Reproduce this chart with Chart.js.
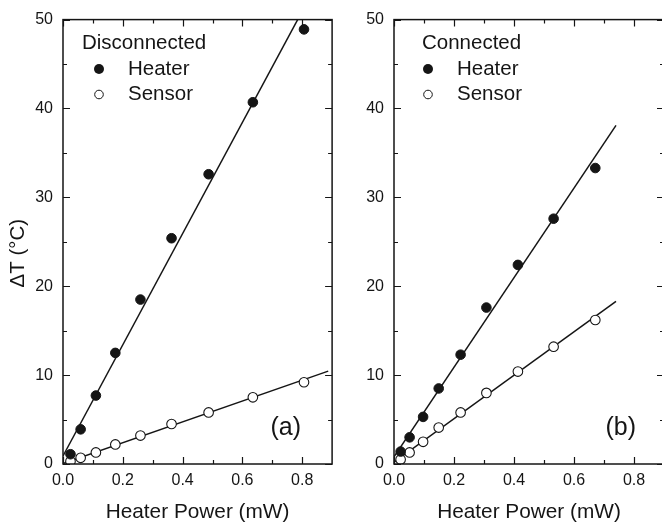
<!DOCTYPE html>
<html><head><meta charset="utf-8">
<script src="https://cdn.jsdelivr.net/npm/chart.js@4.4.0/dist/chart.umd.min.js"></script>
<style>
html,body{margin:0;padding:0;background:#fff;overflow:hidden;width:662px;height:527px;position:relative;}
#c1{position:absolute;left:0;top:0;}
#c2{position:absolute;left:338px;top:0;}
</style></head><body>
<canvas id="c1" width="338" height="527"></canvas>
<canvas id="c2" width="340" height="527"></canvas>
<script>
// ---- tick values ----
const xMajor = [0, 0.2, 0.4, 0.6, 0.8];
const xMinor = [0.1, 0.3, 0.5, 0.7];
const yMajor = [0, 10, 20, 30, 40, 50];
const yMinor = [5, 15, 25, 35, 45];

// ---- panel (a): Disconnected ----
const discPower  = [0.025, 0.059, 0.110, 0.175, 0.259, 0.363, 0.487, 0.635, 0.806];
const discHeater = [1.1, 3.9, 7.7, 12.5, 18.5, 25.4, 32.6, 40.7, 48.9];
const discSensor = [0.3, 0.7, 1.3, 2.2, 3.2, 4.5, 5.8, 7.5, 9.2];
const discHeaterFitX = [0, 0.9];
const discHeaterFitY = [0.9, 57.2];
const discSensorFitX = [0, 0.887];
const discSensorFitY = [0.05, 10.45];

// ---- panel (b): Connected ----
const connPower  = [0.022, 0.052, 0.097, 0.149, 0.222, 0.308, 0.413, 0.532, 0.671];
const connHeater = [1.4, 3.0, 5.3, 8.5, 12.3, 17.6, 22.4, 27.6, 33.3];
const connSensor = [0.5, 1.3, 2.5, 4.1, 5.8, 8.0, 10.4, 13.2, 16.2];
const connHeaterFitX = [0, 0.74];
const connHeaterFitY = [0.8, 38.1];
const connSensorFitX = [0, 0.74];
const connSensorFitY = [0.2, 18.3];

const INK = '#151515';
const FONT = '"Liberation Sans", Arial, Helvetica, sans-serif';
Chart.defaults.font.family = FONT;
Chart.defaults.color = INK;

const pts = (xs, ys) => xs.map((x, i) => ({x: x, y: ys[i]}));

const framePlugin = {
  id: 'frame',
  afterDraw(chart, args, o) {
    const ctx = chart.ctx;
    const {left, right, top, bottom} = chart.chartArea;
    const xs = chart.scales.x, ys = chart.scales.y;
    ctx.save();
    ctx.strokeStyle = INK;
    // frame
    ctx.lineWidth = 1.5;
    ctx.strokeRect(left, top, right - left, bottom - top);
    // ticks (inward, all four sides)
    ctx.lineWidth = 1.2;
    ctx.beginPath();
    const xt = (v, len) => { const p = Math.round(xs.getPixelForValue(v)) + 0.5;
      ctx.moveTo(p, bottom); ctx.lineTo(p, bottom - len);
      ctx.moveTo(p, top); ctx.lineTo(p, top + len); };
    const yt = (v, len) => { const p = Math.round(ys.getPixelForValue(v)) + 0.5;
      ctx.moveTo(left, p); ctx.lineTo(left + len, p);
      ctx.moveTo(right, p); ctx.lineTo(right - len, p); };
    xMajor.forEach(v => xt(v, 7));
    xMinor.forEach(v => xt(v, 4));
    yMajor.forEach(v => yt(v, 7));
    yMinor.forEach(v => yt(v, 4));
    ctx.stroke();
    // legend
    ctx.fillStyle = INK;
    ctx.textBaseline = 'middle';
    ctx.textAlign = 'left';
    ctx.font = '20.5px ' + FONT;
    ctx.fillText(o.title, left + o.titleDx, 43);
    ctx.fillText('Heater', left + o.textDx, 69);
    ctx.fillText('Sensor', left + o.textDx, 94.5);
    ctx.beginPath();
    ctx.arc(left + o.markDx, 69, 5, 0, Math.PI * 2);
    ctx.fill();
    ctx.beginPath();
    ctx.arc(left + o.markDx, 94.5, 4.3, 0, Math.PI * 2);
    ctx.lineWidth = 1;
    ctx.fillStyle = '#fff';
    ctx.fill();
    ctx.stroke();
    // panel label
    ctx.fillStyle = INK;
    ctx.textAlign = 'right';
    ctx.font = '25px ' + FONT;
    ctx.fillText(o.label, right - o.labelDx, 428);
    ctx.restore();
  }
};

function makeChart(id, power, heater, sensor, hfx, hfy, sfx, sfy, cfg) {
  return new Chart(document.getElementById(id), {
    type: 'scatter',
    data: {
      datasets: [
        {label: 'Heater', data: pts(power, heater), order: 1,
         pointRadius: 4.8, pointBackgroundColor: INK, pointBorderColor: INK, pointBorderWidth: 1},
        {label: 'Sensor', data: pts(power, sensor), order: 1,
         pointRadius: 4.8, pointBackgroundColor: '#fff', pointBorderColor: INK, pointBorderWidth: 1.1},
        {label: 'Heater fit', data: pts(hfx, hfy), order: 2, showLine: true,
         pointRadius: 0, borderColor: INK, borderWidth: 1.5},
        {label: 'Sensor fit', data: pts(sfx, sfy), order: 2, showLine: true,
         pointRadius: 0, borderColor: INK, borderWidth: 1.5}
      ]
    },
    options: {
      responsive: false,
      animation: false,
      devicePixelRatio: 1,
      layout: {padding: {left: 0, right: cfg.padRight, top: 15, bottom: 0}},
      plugins: {
        legend: {display: false},
        tooltip: {enabled: false},
        frame: cfg.frame
      },
      scales: {
        x: {
          type: 'linear', min: 0, max: 0.9,
          afterBuildTicks: s => { s.ticks = xMajor.map(v => ({value: v})); },
          afterFit: s => { s.height = 63; },
          ticks: {font: {size: 16}, color: INK, padding: 7, callback: v => Number(v).toFixed(1)},
          grid: {display: false, drawTicks: false},
          border: {display: false},
          title: {display: true, text: 'Heater Power (mW)', font: {size: 20.8}, color: INK,
                  padding: {top: 0, bottom: 2}}
        },
        y: {
          type: 'linear', min: 0, max: 50,
          afterBuildTicks: s => { s.ticks = yMajor.map(v => ({value: v})); },
          afterFit: s => { s.width = cfg.yWidth; },
          ticks: {font: {size: 16}, color: INK, padding: 10},
          grid: {display: false, drawTicks: false},
          border: {display: false},
          title: {display: cfg.yTitle, text: 'ΔT (°C)    ', font: {size: 20.5}, color: INK,
                  padding: {top: 6, bottom: 0}}
        }
      }
    },
    plugins: [framePlugin]
  });
}

makeChart('c1', discPower, discHeater, discSensor,
  discHeaterFitX, discHeaterFitY, discSensorFitX, discSensorFitY,
  {padRight: 4, yWidth: 63, yTitle: true,
   frame: {title: 'Disconnected', label: '(a)', titleDx: 19, markDx: 36, textDx: 65, labelDx: 31}});

makeChart('c2', connPower, connHeater, connSensor,
  connHeaterFitX, connHeaterFitY, connSensorFitX, connSensorFitY,
  {padRight: 14, yWidth: 56, yTitle: false,
   frame: {title: 'Connected', label: '(b)', titleDx: 28, markDx: 34, textDx: 63, labelDx: 28}});
</script>
</body></html>
